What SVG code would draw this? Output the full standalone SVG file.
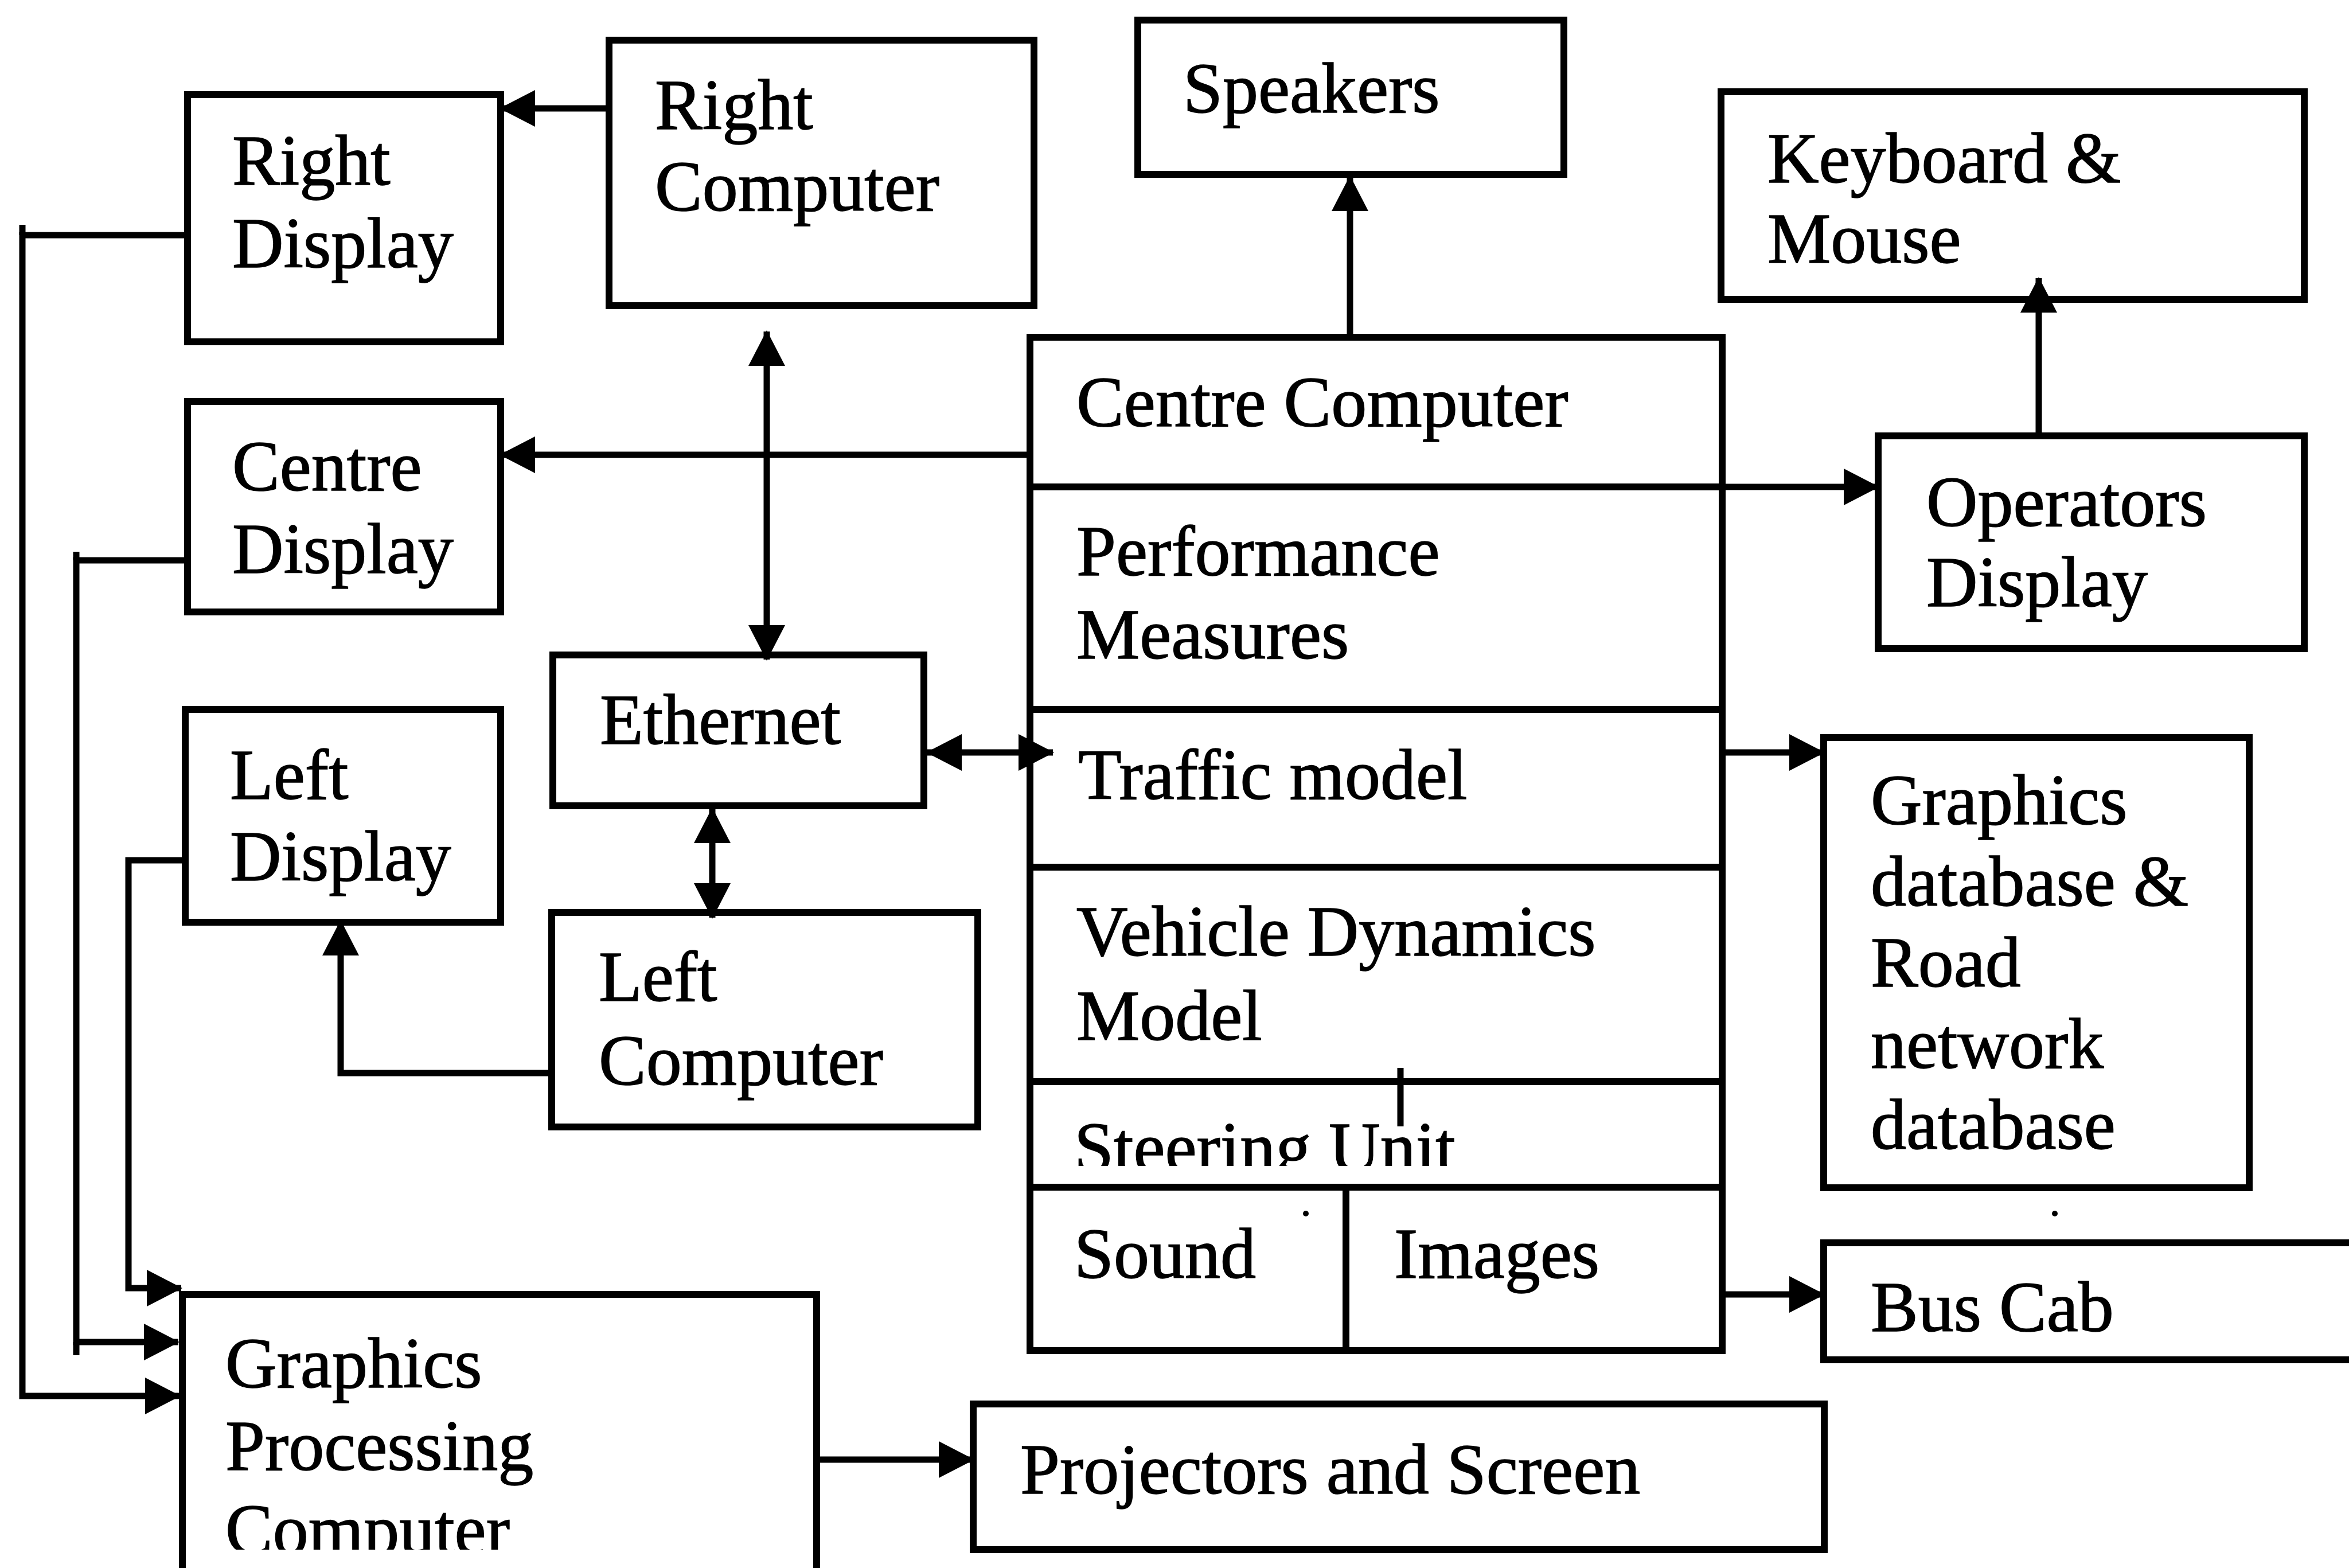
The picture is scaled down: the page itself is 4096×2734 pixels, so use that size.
<svg xmlns="http://www.w3.org/2000/svg" width="4096" height="2734" viewBox="0 0 4096 2734">
<style>
.box{fill:none;stroke:#000;stroke-width:12}
.conn{fill:none;stroke:#000;stroke-width:11}
text{font-family:"Liberation Serif","Times New Roman",serif;font-size:124px;fill:#000;stroke:#000;stroke-width:1.5}
</style>
<defs>
<marker id="ah" markerUnits="userSpaceOnUse" markerWidth="62" markerHeight="64" refX="60" refY="32" orient="auto-start-reverse" viewBox="0 0 62 64">
<path d="M0,0 L62,32 L0,64 z" fill="#000"/>
</marker>
<clipPath id="clipSteer"><rect x="1800" y="1890" width="1200" height="143"/></clipPath>
<clipPath id="clipGpc"><rect x="320" y="2260" width="1100" height="442"/></clipPath>
</defs>
<rect x="0" y="0" width="4096" height="2734" fill="#fff"/>

<g id="right-display">
<rect class="box" x="327" y="165" width="546" height="431"/>
<text x="405" y="322">Right</text>
<text x="405" y="466">Display</text>
</g>
<g id="right-computer">
<rect class="box" x="1062" y="70" width="741" height="463"/>
<text x="1142" y="225">Right</text>
<text x="1142" y="367">Computer</text>
</g>
<g id="speakers">
<rect class="box" x="1984" y="35" width="743" height="269"/>
<text x="2063" y="196">Speakers</text>
</g>
<g id="keyboard-mouse">
<rect class="box" x="3001" y="160" width="1017" height="362"/>
<text x="3082" y="318">Keyboard &amp;</text>
<text x="3082" y="458">Mouse</text>
</g>
<g id="centre-display">
<rect class="box" x="327" y="700" width="546" height="367"/>
<text x="405" y="855">Centre</text>
<text x="405" y="999">Display</text>
</g>
<g id="centre-computer">
<rect class="box" x="1796" y="588" width="1207" height="1767"/>
<line class="box" x1="1796" y1="849" x2="3003" y2="849"/>
<line class="box" x1="1796" y1="1237" x2="3003" y2="1237"/>
<line class="box" x1="1796" y1="1512" x2="3003" y2="1512"/>
<line class="box" x1="1796" y1="1886" x2="3003" y2="1886"/>
<line class="box" x1="1796" y1="2070" x2="3003" y2="2070"/>
<line class="box" x1="2347" y1="2070" x2="2347" y2="2355"/>
<text x="1877" y="743">Centre Computer</text>
<text x="1877" y="1003">Performance</text>
<text x="1877" y="1148">Measures</text>
<text x="1880" y="1393">Traffic model</text>
<text x="1877" y="1666">Vehicle Dynamics</text>
<text x="1877" y="1813">Model</text>
<text x="1873" y="2043" clip-path="url(#clipSteer)">Steering Unit</text>
<text x="1873" y="2228">Sound</text>
<text x="2431" y="2228">Images</text>
</g>
<g id="operators-display">
<rect class="box" x="3275" y="760" width="743" height="371"/>
<text x="3359" y="917">Operators</text>
<text x="3359" y="1057">Display</text>
</g>
<g id="ethernet">
<rect class="box" x="964" y="1142" width="647" height="263"/>
<text x="1046" y="1297">Ethernet</text>
</g>
<g id="left-display">
<rect class="box" x="323" y="1237" width="550" height="371"/>
<text x="401" y="1393">Left</text>
<text x="401" y="1535">Display</text>
</g>
<g id="left-computer">
<rect class="box" x="962" y="1591" width="743" height="374"/>
<text x="1044" y="1745">Left</text>
<text x="1044" y="1891">Computer</text>
</g>
<g id="graphics-database">
<rect class="box" x="3180" y="1286" width="742" height="785"/>
<text x="3262" y="1437">Graphics</text>
<text x="3262" y="1579">database &amp;</text>
<text x="3262" y="1720">Road</text>
<text x="3262" y="1862">network</text>
<text x="3262" y="2003">database</text>
</g>
<g id="bus-cab">
<rect class="box" x="3180" y="2167" width="960" height="204"/>
<text x="3262" y="2321">Bus Cab</text>
</g>
<g id="graphics-processing-computer">
<rect class="box" x="318" y="2257" width="1106" height="520"/>
<text x="393" y="2419">Graphics</text>
<text x="393" y="2563">Processing</text>
<text x="393" y="2709" clip-path="url(#clipGpc)">Computer</text>
</g>
<g id="projectors-screen">
<rect class="box" x="1697" y="2448" width="1484" height="254"/>
<text x="1779" y="2604">Projectors and Screen</text>
</g>

<g id="connectors">
<path class="conn" d="M1062,189 H873" marker-end="url(#ah)"/>
<path class="conn" d="M1337,578 V1150" marker-start="url(#ah)" marker-end="url(#ah)"/>
<path class="conn" d="M1796,793 H873" marker-end="url(#ah)"/>
<path class="conn" d="M3003,849 H3275" marker-end="url(#ah)"/>
<path class="conn" d="M2354,588 V308" marker-end="url(#ah)"/>
<path class="conn" d="M3555,760 V485" marker-end="url(#ah)"/>
<path class="conn" d="M1617,1312 H1836" marker-start="url(#ah)" marker-end="url(#ah)"/>
<path class="conn" d="M1242,1410 V1600" marker-start="url(#ah)" marker-end="url(#ah)"/>
<path class="conn" d="M962,1871 H594 V1606" marker-end="url(#ah)"/>
<path class="conn" d="M3003,1312 H3180" marker-end="url(#ah)"/>
<path class="conn" d="M3003,2257 H3180" marker-end="url(#ah)"/>
<path class="conn" d="M1424,2545 H1697" marker-end="url(#ah)"/>
<path class="conn" d="M327,410 H39 V2434 H313" marker-end="url(#ah)"/>
<path class="conn" d="M39,392 V410"/>
<path class="conn" d="M327,977 H133 V2340 H311" marker-end="url(#ah)"/>
<path class="conn" d="M133,962 V977 M133,2340 V2363"/>
<path class="conn" d="M323,1500 H224 V2246 H316" marker-end="url(#ah)"/>
<path class="conn" d="M2442,1862 V1964"/>
<circle cx="2277" cy="2116" r="5" fill="#000"/>
<circle cx="3583" cy="2116" r="5" fill="#000"/>
</g>
</svg>
